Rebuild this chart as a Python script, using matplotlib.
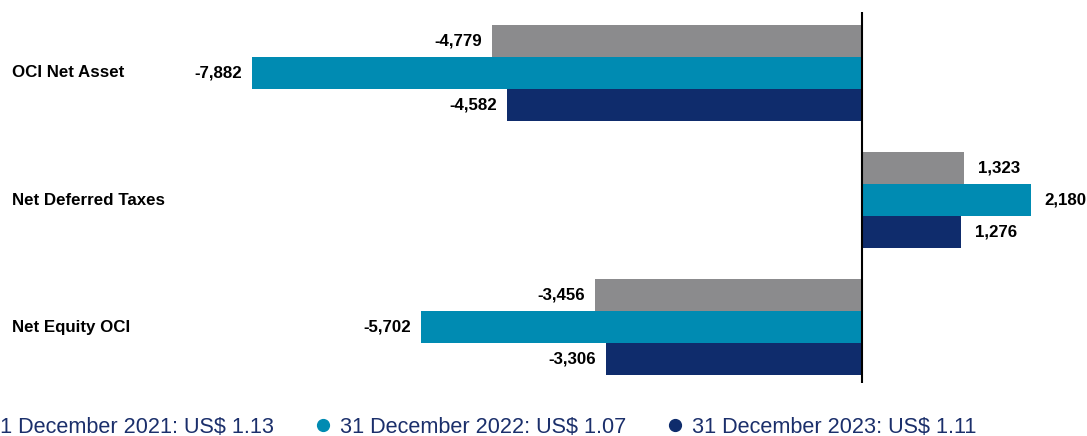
import numpy as np
import matplotlib.pyplot as plt
from matplotlib.lines import Line2D
import matplotlib.transforms as mtransforms

plt.rcParams['font.family'] = ['Liberation Sans', 'DejaVu Sans']

categories = ["OCI Net Asset", "Net Deferred Taxes", "Net Equity OCI"]
series_names = [
    "31 December 2021: US$ 1.13",
    "31 December 2022: US$ 1.07",
    "31 December 2023: US$ 1.11",
]
values_2021 = [-4779, 1323, -3456]
values_2022 = [-7882, 2180, -5702]
values_2023 = [-4582, 1276, -3306]
colors = ["#8b8b8d", "#008bb2", "#0f2c6c"]

fig = plt.figure(figsize=(10.87, 4.36), dpi=100)
ax = fig.add_axes([0, 0.1216, 1, 0.851])

y = np.arange(len(categories))
h = 0.25
pxu = 1087 / (2907 + 11138)  # px per unit, for label offsets
for k, (vals, c) in enumerate(zip([values_2021, values_2022, values_2023], colors)):
    pos = y + (k - 1) * h
    ax.barh(pos, vals, height=h, color=c, linewidth=0)
    for p, v in zip(pos, vals):
        if v < 0:
            ax.text(v - 10 / pxu, p, f"{v:,}", ha="right", va="center",
                    fontsize=12.2, fontweight="bold", color="black")
        else:
            ax.text(v + 14 / pxu, p, f"{v:,}", ha="left", va="center",
                    fontsize=12.2, fontweight="bold", color="black")

ax.axvline(0, color="black", linewidth=1.5)
ax.set_xlim(-11138, 2907)
ax.set_ylim(2.44, -0.48)
ax.axis("off")

trans = mtransforms.blended_transform_factory(ax.transAxes, ax.transData)
for yy, cat in zip(y, categories):
    ax.text(0.011, yy, cat, transform=trans, ha="left", va="center",
            fontsize=12.2, fontweight="bold", color="black")

handles = [Line2D([], [], marker="o", linestyle="none", markersize=8.5,
                  markerfacecolor=c, markeredgecolor=c) for c in colors]
fig.legend(handles, series_names, loc="center", ncol=3,
           bbox_to_anchor=(0.433, 0.02), frameon=False, fontsize=15.6,
           labelcolor="#1b2f6b", handletextpad=0.48, columnspacing=1.96,
           handlelength=0.6)

fig.savefig("out.png", dpi=100)
